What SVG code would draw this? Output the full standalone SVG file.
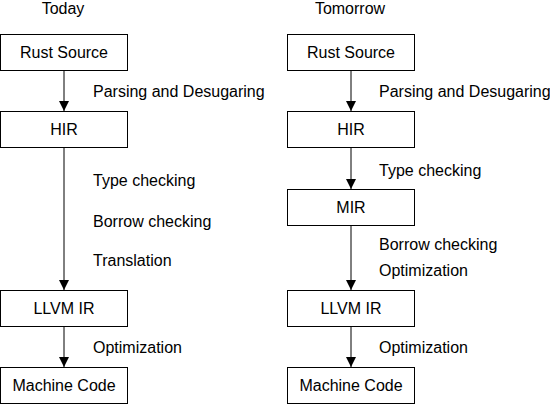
<svg xmlns="http://www.w3.org/2000/svg" width="550" height="404" viewBox="0 0 550 404">
<defs>
<style>
text{font-family:"Liberation Sans",Arial,sans-serif;font-size:16px;fill:#000}
.box{fill:#fff;stroke:#000;stroke-width:1}
.c{text-anchor:middle}
.edge{stroke:#000;stroke-width:1;fill:none;marker-end:url(#ah)}
</style>
<marker id="ah" viewBox="0 0 10 10" refX="10" refY="5" markerWidth="10" markerHeight="10" markerUnits="userSpaceOnUse" orient="auto">
<path d="M0,0 L10,5 L0,10 z" fill="#000"/>
</marker>
</defs>
<rect width="550" height="404" fill="#fff"/>
<text class="c" x="63" y="13.5">Today</text>
<text class="c" x="350" y="13.5">Tomorrow</text>
<g id="connectors">
<line class="edge" x1="64" y1="70" x2="64" y2="111"/>
<line class="edge" x1="64" y1="147" x2="64" y2="290"/>
<line class="edge" x1="64" y1="326" x2="64" y2="367"/>
<line class="edge" x1="351" y1="70" x2="351" y2="111"/>
<line class="edge" x1="351" y1="147" x2="351" y2="189"/>
<line class="edge" x1="351" y1="225" x2="351" y2="290"/>
<line class="edge" x1="351" y1="326" x2="351" y2="367"/>
<text x="93" y="97">Parsing and Desugaring</text>
<text x="93" y="186">Type checking</text>
<text x="93" y="227">Borrow checking</text>
<text x="93" y="266">Translation</text>
<text x="93" y="353">Optimization</text>
<text x="379" y="97">Parsing and Desugaring</text>
<text x="379" y="176">Type checking</text>
<text x="379" y="250">Borrow checking</text>
<text x="379" y="276">Optimization</text>
<text x="379" y="353">Optimization</text>
</g>
<g id="l-rust"><rect class="box" x="0.5" y="34.5" width="127" height="36"/><text class="c" x="64" y="58">Rust Source</text></g>
<g id="l-hir"><rect class="box" x="0.5" y="111.5" width="127" height="36"/><text class="c" x="64" y="135">HIR</text></g>
<g id="l-llvm"><rect class="box" x="0.5" y="290.5" width="127" height="36"/><text class="c" x="64" y="314">LLVM IR</text></g>
<g id="l-mc"><rect class="box" x="0.5" y="367.5" width="127" height="36"/><text class="c" x="64" y="391">Machine Code</text></g>
<g id="r-rust"><rect class="box" x="287.5" y="34.5" width="127" height="36"/><text class="c" x="351" y="58">Rust Source</text></g>
<g id="r-hir"><rect class="box" x="287.5" y="111.5" width="127" height="36"/><text class="c" x="351" y="135">HIR</text></g>
<g id="r-mir"><rect class="box" x="287.5" y="189.5" width="127" height="36"/><text class="c" x="351" y="213">MIR</text></g>
<g id="r-llvm"><rect class="box" x="287.5" y="290.5" width="127" height="36"/><text class="c" x="351" y="314">LLVM IR</text></g>
<g id="r-mc"><rect class="box" x="287.5" y="367.5" width="127" height="36"/><text class="c" x="351" y="391">Machine Code</text></g>
</svg>
